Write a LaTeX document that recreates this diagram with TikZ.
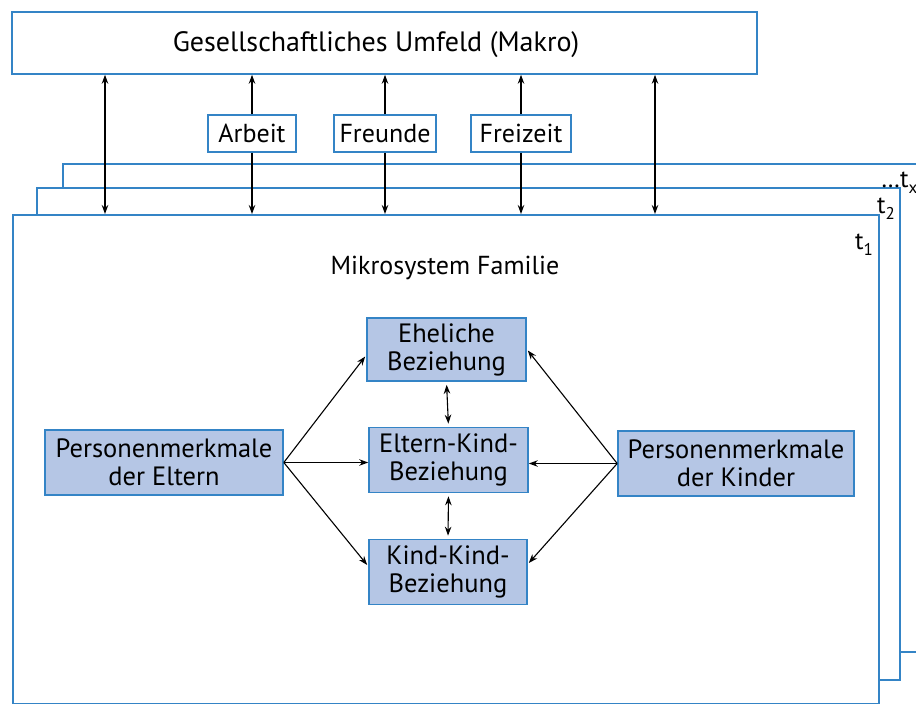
\documentclass[tikz,border=0pt]{standalone}
\usepackage{fontspec}
\setmainfont{PT Sans}
\usetikzlibrary{arrows.meta,calc}
\definecolor{frameblue}{RGB}{52,132,198}
\definecolor{boxfill}{RGB}{181,198,229}
% lowered index digit after a time label
\newcommand\lowidx[1]{\raisebox{-0.55ex}{\fontsize{17}{17}\selectfont #1}}
\begin{document}
\begin{tikzpicture}[x=1pt,y=-1pt,
  frame/.style={draw=frameblue,line width=1.6pt,fill=white},
  topic/.style={draw=frameblue,line width=1.6pt,fill=white,inner sep=0pt,
    font=\fontsize{26}{28}\selectfont},
  core/.style={draw=frameblue,line width=1.6pt,fill=boxfill,align=center,
    inner sep=0pt,font=\fontsize{26.5}{28}\selectfont},
  tip/.tip={Stealth[length=9pt,width=6.5pt]},
  link/.style={black,line width=1.1pt,-tip},
  dlink/.style={black,line width=1.1pt,tip-tip},
  tlabel/.style={anchor=base west,inner sep=0pt,font=\fontsize{25}{28}\selectfont}]

\useasboundingbox (0,0) rectangle (916,704);
\clip (0,0) rectangle (916,704);

% stacked time slices of the family microsystem
\draw[frame] (63,164) rectangle (940,652);
\draw[frame] (37,188) rectangle (900,680);
\node[frame,anchor=north west,inner sep=0pt,minimum width=866pt,minimum height=489pt] (t1) at (12,214) {};

\node[tlabel] (lx) at (881,187) {\ldots t\lowidx{x}};
\node[tlabel] (l2) at (877,213) {t\lowidx{2}};
\node[tlabel] (l1) at (855,249) {t\lowidx{1}};

% macro level and mediating contexts
\node[topic,minimum width=745pt,minimum height=62pt] (makro) at (384.5,43) {};
\node[font=\fontsize{28}{30}\selectfont] (makrotext) at (376,45) {Gesellschaftliches Umfeld (Makro)};
\node[topic,minimum width=88pt,minimum height=37pt] (arbeit) at (252,133.5) {Arbeit};
\node[topic,minimum width=102pt,minimum height=37pt] (freunde) at (385,133.5) {Freunde};
\node[topic,minimum width=100pt,minimum height=37pt] (freizeit) at (521,133.5) {Freizeit};

\coordinate (xa) at (105,0);
\coordinate (xb) at (655,0);
\draw[dlink] (xa |- makro.south) -- (xa |- t1.north);
\draw[dlink] (xb |- makro.south) -- (xb |- t1.north);
\foreach \n in {arbeit,freunde,freizeit}{
  \draw[link] (\n.north) -- (\n.north |- makro.south);
  \draw[link] (\n.south) -- (\n.south |- t1.north);
}

% family microsystem
\node[font=\fontsize{26}{28}\selectfont] (mikro) at (445,268) {Mikrosystem Familie};

\node[core,minimum width=159pt,minimum height=63pt] (ehe) at (446.5,349.5) {Eheliche\\Beziehung};
\node[core,minimum width=159pt,minimum height=65pt] (ek) at (448.5,460) {Eltern-Kind-\\Beziehung};
\node[core,minimum width=158pt,minimum height=65pt] (kk) at (448,572) {Kind-Kind-\\Beziehung};
\node[core,minimum width=238pt,minimum height=65pt] (pe) at (164,462.5) {Personenmerkmale\\der Eltern};
\node[core,minimum width=236pt,minimum height=65pt] (pk) at (736,463.5) {Personenmerkmale\\der Kinder};

\draw[link] (pe.east) -- ($(ehe.west)+(-1,7)$);
\draw[link] (pe.east) -- (pe.east -| ek.west);
\draw[link] (pe.east) -- ($(kk.west)+(-1,-7)$);
\draw[link] (pk.west) -- ($(ehe.east)+(1,1)$);
\draw[link] (pk.west) -- (pk.west -| ek.east);
\draw[link] (pk.west) -- ($(kk.east)+(1,-9)$);
\draw[dlink,shorten <=3pt,shorten >=3pt] (ehe.south) -- (ek.north);
\draw[dlink,shorten <=3pt,shorten >=3pt] (ek.south) -- (kk.north);
\end{tikzpicture}
\end{document}
